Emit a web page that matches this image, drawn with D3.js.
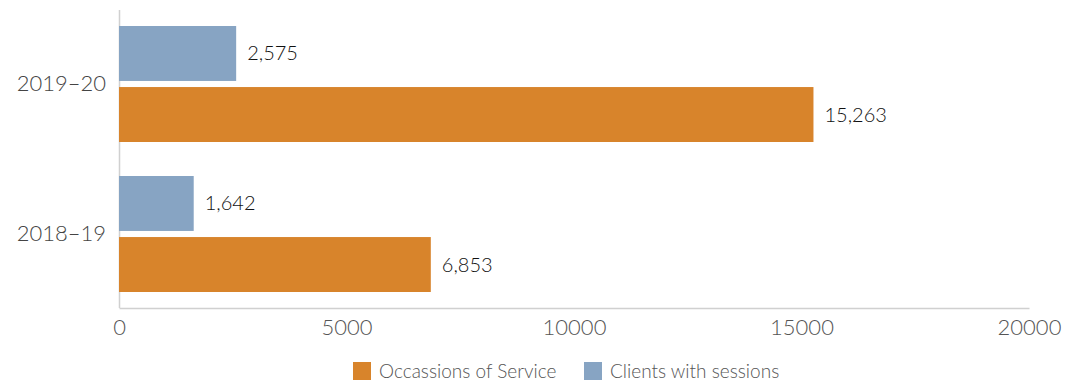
<!DOCTYPE html>
<html><head><meta charset="utf-8">
<script src="https://cdn.jsdelivr.net/npm/d3@7"></script>
<style>body{margin:0;background:#fff}</style>
</head><body>
<svg id="c" width="1086" height="382"></svg>
<script>
const categories = ["2019–20", "2018–19"];
const seriesNames = ["Clients with sessions", "Occassions of Service"];
const clients = [2575, 1642];
const occasions = [15263, 6853];
const xTicks = [0, 5000, 10000, 15000, 20000];
const colors = {"Occassions of Service": "#d8842b", "Clients with sessions": "#87a4c3"};

const svg = d3.select("#c");
const x = d3.scaleLinear().domain([0, 20000]).range([119, 1029]);
const y = d3.scaleBand().domain(categories).range([9, 309]).paddingInner(0).paddingOuter(0);
const inner = d3.scaleBand().domain(seriesNames).range([17, 133]).paddingInner(0.1);
const font = "Lato, 'Noto Sans', sans-serif";

const data = [];
categories.forEach((c, i) => {
  data.push({cat: c, s: "Clients with sessions", v: clients[i]});
  data.push({cat: c, s: "Occassions of Service", v: occasions[i]});
});

svg.append("line").attr("x1", 119.5).attr("x2", 119.5).attr("y1", 10).attr("y2", 308)
  .attr("stroke", "#d0d0d0").attr("stroke-width", 1.5);
const xAxis = svg.append("g").attr("transform", "translate(0,308)")
  .call(d3.axisBottom(x).tickValues(xTicks).tickSize(0).tickPadding(9).tickFormat(d3.format("d")));
xAxis.select(".domain").attr("stroke", "#d0d0d0").attr("stroke-width", 1.5);
xAxis.selectAll("text").attr("font-family", font).attr("font-size", 22).attr("font-weight", 300)
  .attr("fill", "#555").attr("dy", "0.8em");

const yAxis = svg.append("g").attr("transform", "translate(119,0)")
  .call(d3.axisLeft(y).tickSize(0).tickPadding(13));
yAxis.select(".domain").remove();
yAxis.selectAll("text").attr("font-family", font).attr("font-size", 22).attr("font-weight", 300).attr("fill", "#444");

svg.append("g").selectAll("rect").data(data).join("rect")
  .attr("x", x(0)).attr("y", d => y(d.cat) + inner(d.s))
  .attr("width", d => x(d.v) - x(0)).attr("height", inner.bandwidth())
  .attr("fill", d => colors[d.s]);

svg.append("g").selectAll("text").data(data).join("text")
  .attr("x", d => x(d.v) + 11).attr("y", d => y(d.cat) + inner(d.s) + inner.bandwidth() / 2)
  .attr("dy", "0.35em").attr("font-family", font).attr("font-size", 20).attr("font-weight", 300)
  .attr("fill", "#111").text(d => d3.format(",")(d.v));

const legendItems = ["Occassions of Service", "Clients with sessions"];
const lx = [353, 584];
const lg = svg.append("g").selectAll("g").data(legendItems).join("g")
  .attr("transform", (d, i) => `translate(${lx[i]},362)`);
lg.append("rect").attr("width", 18).attr("height", 18).attr("fill", d => colors[d]);
lg.append("text").attr("x", 26).attr("y", 9).attr("dy", "0.35em")
  .attr("font-family", font).attr("font-size", 19).attr("font-weight", 300).attr("fill", "#555").text(d => d);
</script>
</body></html>
